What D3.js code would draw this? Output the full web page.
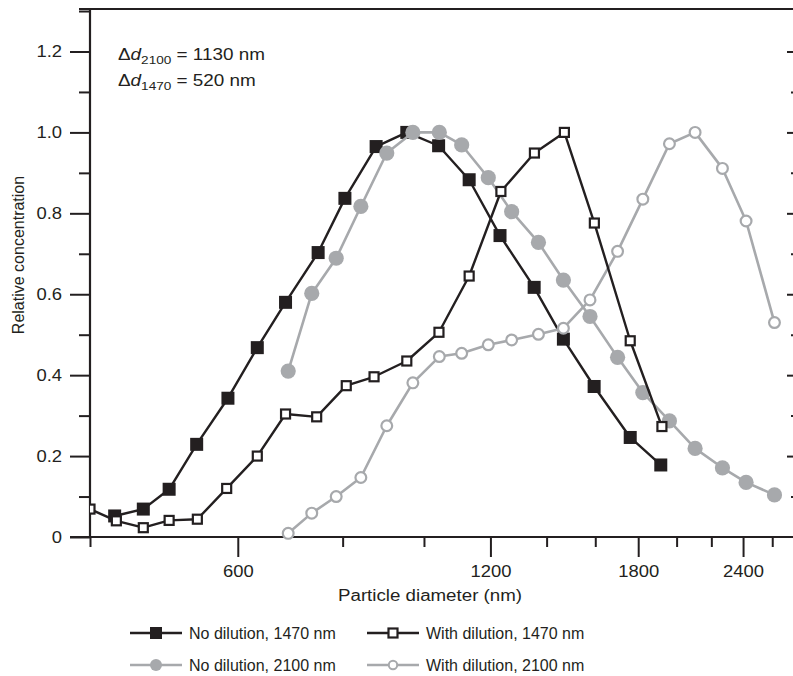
<!DOCTYPE html>
<html>
<head>
<meta charset="utf-8">
<script src="https://cdn.jsdelivr.net/npm/d3@7"></script>
<style>
  html, body { margin: 0; padding: 0; background: #fff; }
  svg { display: block; }
  text { font-family: "Liberation Sans", Arial, Helvetica, sans-serif; fill: #231f20; }
</style>
</head>
<body>
<svg id="chart" width="793" height="676"></svg>
<script>
// ---------------- data ----------------
const diamNoDil1470 = [428, 463, 497, 536, 584, 633, 684, 748, 805, 877, 954, 1041, 1132, 1232, 1353, 1466, 1595, 1761, 1915];
const valNoDil1470  = [0.052, 0.069, 0.118, 0.229, 0.343, 0.468, 0.580, 0.703, 0.837, 0.965, 1.000, 0.967, 0.883, 0.745, 0.617, 0.489, 0.372, 0.246, 0.178];

const diamDil1470 = [400, 430, 463, 497, 537, 582, 633, 684, 745, 808, 872, 954, 1042, 1132, 1235, 1354, 1470, 1596, 1761, 1921];
const valDil1470  = [0.069, 0.040, 0.023, 0.041, 0.044, 0.120, 0.200, 0.304, 0.297, 0.374, 0.396, 0.435, 0.506, 0.645, 0.854, 0.949, 1.000, 0.776, 0.485, 0.273];

const diam2100      = [689, 735, 786, 841, 903, 970, 1043, 1109, 1193, 1272, 1369, 1466, 1577, 1701, 1823, 1961, 2104, 2268, 2420, 2616];
const valNoDil2100  = [0.410, 0.602, 0.689, 0.817, 0.949, 1.000, 1.000, 0.969, 0.888, 0.804, 0.728, 0.635, 0.545, 0.444, 0.357, 0.287, 0.219, 0.171, 0.135, 0.104];
const valDil2100    = [0.009, 0.059, 0.100, 0.147, 0.275, 0.381, 0.446, 0.454, 0.475, 0.487, 0.501, 0.516, 0.586, 0.706, 0.835, 0.972, 1.000, 0.911, 0.781, 0.530];

const xMajorTicks = [600, 1200, 1800, 2400];
const xMinorTicks = [400, 800, 1000, 1400, 1600, 2000, 2200, 2600];
const yMajorTicks = [0, 0.2, 0.4, 0.6, 0.8, 1.0, 1.2];
const yMinorTicks = [0.1, 0.3, 0.5, 0.7, 0.9, 1.1, 1.3];

const seriesNames = ["No dilution, 1470 nm", "With dilution, 1470 nm", "No dilution, 2100 nm", "With dilution, 2100 nm"];
const xTitle = "Particle diameter (nm)";
const yTitle = "Relative concentration";

// ---------------- setup ----------------
const BLACK = "#231f20", GREY = "#a7a9ac";
const svg = d3.select("#chart");
const x = d3.scaleLog().domain([400, 2760]).range([90, 794]);
const y = d3.scaleLinear().domain([0, 1.305]).range([537, 9]);

function stretch(sel, k) {
  sel.each(function () {
    const w = this.getComputedTextLength();
    d3.select(this).attr("textLength", w * k).attr("lengthAdjust", "spacingAndGlyphs");
  });
}

svg.append("defs").append("clipPath").attr("id", "clip")
  .append("rect").attr("x", 90).attr("y", 0).attr("width", 710).attr("height", 545);

// ---------------- axes ----------------
const axisG = svg.append("g");
const yMaj = axisG.append("g").attr("transform", "translate(90,0)")
  .call(d3.axisLeft(y).tickValues(yMajorTicks).tickSize(20).tickPadding(8)
    .tickFormat(d => d === 0 ? "0" : d3.format(".1f")(d)));
axisG.append("g").attr("transform", "translate(90,0)")
  .call(d3.axisLeft(y).tickValues(yMinorTicks).tickSize(11).tickFormat(""));
// right side: inward ticks only (frame line lies just beyond the picture edge)
axisG.append("g").attr("transform", "translate(797,0)")
  .call(d3.axisLeft(y).tickValues(yMajorTicks.filter(d => d > 0)).tickSize(10).tickFormat(""));
axisG.append("g").attr("transform", "translate(797,0)")
  .call(d3.axisLeft(y).tickValues(yMinorTicks.slice(0, 6)).tickSize(6).tickFormat(""));
const xMaj = axisG.append("g").attr("transform", "translate(0,537)")
  .call(d3.axisBottom(x).tickValues(xMajorTicks).tickSize(20).tickPadding(9).tickFormat(d3.format("d")));
axisG.append("g").attr("transform", "translate(0,537)")
  .call(d3.axisBottom(x).tickValues(xMinorTicks).tickSize(10).tickFormat(""));

axisG.selectAll(".domain").remove();
axisG.selectAll(".tick line").attr("stroke", BLACK).attr("stroke-width", 2);
axisG.selectAll(".tick text").attr("font-size", 16).attr("fill", BLACK)
  .style("font-family", '"Liberation Sans", Arial, sans-serif');
stretch(yMaj.selectAll(".tick text"), 1.15);
stretch(xMaj.selectAll(".tick text"), 1.15);

axisG.append("line").attr("x1", 90).attr("x2", 90).attr("y1", 538).attr("y2", 9)
  .attr("stroke", BLACK).attr("stroke-width", 2.2);
axisG.append("line").attr("x1", 70).attr("x2", 800).attr("y1", 537).attr("y2", 537)
  .attr("stroke", BLACK).attr("stroke-width", 2.2);
axisG.append("line").attr("x1", 79).attr("x2", 800).attr("y1", 9).attr("y2", 9)
  .attr("stroke", BLACK).attr("stroke-width", 2.2);

// titles
svg.append("text").attr("x", 430).attr("y", 601).attr("text-anchor", "middle")
  .attr("font-size", 16).attr("textLength", 184).attr("lengthAdjust", "spacingAndGlyphs").text(xTitle);
svg.append("text").attr("transform", "translate(24,255) rotate(-90)")
  .attr("text-anchor", "middle").attr("font-size", 16).text(yTitle);

// annotation
function annot(yPos, sub, rest) {
  const t = svg.append("text").attr("x", 118).attr("y", yPos).attr("font-size", 16);
  t.append("tspan").text("\u0394");
  t.append("tspan").attr("font-style", "italic").text("d");
  t.append("tspan").attr("font-size", 11.5).attr("dy", 4).text(sub);
  t.append("tspan").attr("dy", -4).text(rest);
  stretch(t.selectAll("tspan"), 1.18);
}
annot(60, "2100", " = 1130 nm");
annot(86, "1470", " = 520 nm");

// ---------------- data ----------------
const dataG = svg.append("g").attr("clip-path", "url(#clip)");
const line = d3.line().x(d => x(d[0])).y(d => y(d[1]));
const zip = (a, b) => a.map((v, i) => [v, b[i]]);

const sNoDil1470 = zip(diamNoDil1470, valNoDil1470);
const sDil1470 = zip(diamDil1470, valDil1470);
const sNoDil2100 = zip(diam2100, valNoDil2100);
const sDil2100 = zip(diam2100, valDil2100);

function drawLine(data, color, w) {
  dataG.append("path").datum(data).attr("d", line).attr("fill", "none")
    .attr("stroke", color).attr("stroke-width", w).attr("stroke-linejoin", "round");
}
function squares(data, size, fill, stroke, sw) {
  dataG.append("g").selectAll("rect").data(data).join("rect")
    .attr("x", d => x(d[0]) - size / 2).attr("y", d => y(d[1]) - size / 2)
    .attr("width", size).attr("height", size)
    .attr("fill", fill).attr("stroke", stroke).attr("stroke-width", sw);
}
function circles(data, r, fill, stroke, sw) {
  dataG.append("g").selectAll("circle").data(data).join("circle")
    .attr("cx", d => x(d[0])).attr("cy", d => y(d[1])).attr("r", r)
    .attr("fill", fill).attr("stroke", stroke).attr("stroke-width", sw);
}

drawLine(sNoDil1470, BLACK, 2.4);
squares(sNoDil1470, 13, BLACK, "none", 0);
drawLine(sNoDil2100, GREY, 2.6);
circles(sNoDil2100, 7.6, GREY, "none", 0);
drawLine(sDil2100, GREY, 2.6);
circles(sDil2100, 5.4, "#fff", GREY, 2.2);
drawLine(sDil1470, BLACK, 2.4);
squares(sDil1470, 9, "#fff", BLACK, 2.2);

// ---------------- legend ----------------
const legendItems = [
  { name: seriesNames[0], col: 0, row: 0, color: BLACK, shape: "sq", filled: true },
  { name: seriesNames[1], col: 1, row: 0, color: BLACK, shape: "sq", filled: false },
  { name: seriesNames[2], col: 0, row: 1, color: GREY, shape: "ci", filled: true },
  { name: seriesNames[3], col: 1, row: 1, color: GREY, shape: "ci", filled: false }
];
const colX = [130, 367], rowY = [633, 665];
const lg = svg.append("g");
legendItems.forEach(it => {
  const x0 = colX[it.col], yc = rowY[it.row];
  const g = lg.append("g");
  g.append("line").attr("x1", x0).attr("x2", x0 + 52).attr("y1", yc).attr("y2", yc)
    .attr("stroke", it.color).attr("stroke-width", 2.4);
  const cx = x0 + 26;
  if (it.shape === "sq") {
    if (it.filled) g.append("rect").attr("x", cx - 6).attr("y", yc - 6).attr("width", 12).attr("height", 12).attr("fill", it.color);
    else g.append("rect").attr("x", cx - 4.5).attr("y", yc - 4.5).attr("width", 9).attr("height", 9).attr("fill", "#fff").attr("stroke", it.color).attr("stroke-width", 2.2);
  } else {
    if (it.filled) g.append("circle").attr("cx", cx).attr("cy", yc).attr("r", 6).attr("fill", it.color);
    else g.append("circle").attr("cx", cx).attr("cy", yc).attr("r", 4.2).attr("fill", "#fff").attr("stroke", it.color).attr("stroke-width", 2);
  }
  g.append("text").attr("x", x0 + 59).attr("y", yc + 6).attr("font-size", 16).text(it.name);
});
</script>
</body>
</html>
